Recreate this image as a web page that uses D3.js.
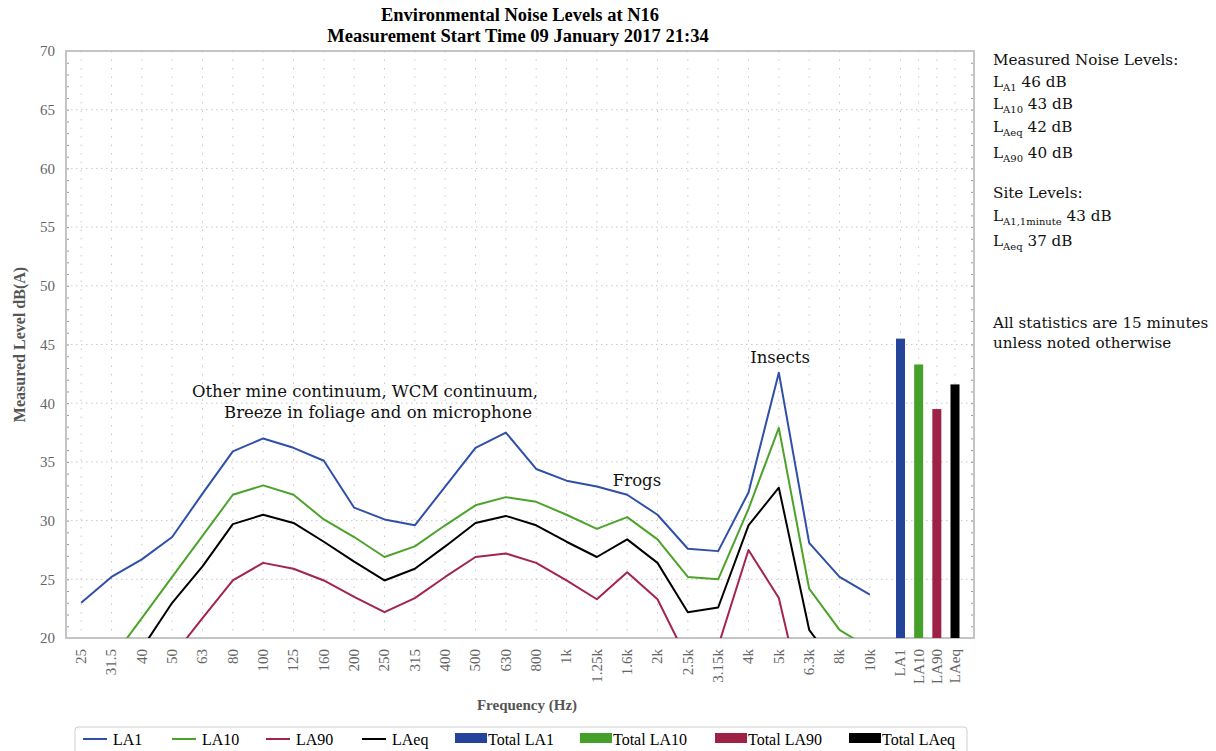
<!DOCTYPE html>
<html>
<head>
<meta charset="utf-8">
<script src="https://cdn.jsdelivr.net/npm/d3@7"></script>
<style>
  body { margin: 0; background: #fff; }
  svg { display: block; }
</style>
</head>
<body>
<svg width="1216" height="751"></svg>
<script>
const width = 1216, height = 751;
const margin = {top: 51, right: 242, bottom: 113, left: 66},
      plotWidth = width - margin.left - margin.right,
      plotHeight = height - margin.top - margin.bottom;

// data
const freqs = ["25","31.5","40","50","63","80","100","125","160","200","250","315","400",
               "500","630","800","1k","1.25k","1.6k","2k","2.5k","3.15k","4k","5k","6.3k","8k","10k"];
const la1  = [23.0,25.2,26.7,28.6,32.3,35.9,37.0,36.2,35.1,31.1,30.1,29.6,32.9,36.2,37.5,34.4,33.4,32.9,32.2,30.5,27.6,27.4,32.4,42.6,28.1,25.2,23.7];
const la10 = [16.5,18.2,21.7,25.2,28.7,32.2,33.0,32.2,30.1,28.6,26.9,27.8,29.6,31.3,32.0,31.6,30.5,29.3,30.3,28.4,25.2,25.0,31.0,37.9,24.2,20.7,19.1];
const la90 = [13.0,14.5,16.0,18.4,21.7,24.9,26.4,25.9,24.9,23.5,22.2,23.4,25.2,26.9,27.2,26.4,24.9,23.3,25.6,23.3,18.1,19.3,27.5,23.4,12.4,12.0,11.0];
const laeq = [14.5,16.5,19.1,23.0,26.1,29.7,30.5,29.8,28.2,26.5,24.9,25.9,27.8,29.8,30.4,29.6,28.2,26.9,28.4,26.4,22.2,22.6,29.6,32.8,20.7,17.2,16.0];
const totals = ["LA1","LA10","LA90","LAeq"];
const totalValues = [45.5,43.3,39.5,41.6];
const yTicks = [20,25,30,35,40,45,50,55,60,65,70];

const series = [
  {name: "LA1",  values: la1,  color: "#2f4fa8"},
  {name: "LA10", values: la10, color: "#4ca32a"},
  {name: "LA90", values: la90, color: "#a3244c"},
  {name: "LAeq", values: laeq, color: "#000000"}
];
const barColors = ["#24439b", "#45a02a", "#9e2146", "#000000"];

const svg = d3.select("svg");
const serif = "'Liberation Serif', 'Times New Roman', serif";
const wide = "'DejaVu Serif', serif";

const g = svg.append("g")
    .attr("transform", `translate(${margin.left}, ${margin.top})`);

// scales
const freqBand = 819;
const x = d3.scaleBand()
    .domain(freqs)
    .range([0, freqBand]);
const xc = d => x(d) + x.bandwidth() / 2;

const xBar = d3.scalePoint()
    .domain(totals)
    .range([834.5, 889]);

const y = d3.scaleLinear()
    .domain([20, 70])
    .range([plotHeight, 0]);

g.append("clipPath").attr("id", "clip")
  .append("rect")
    .attr("width", plotWidth)
    .attr("height", plotHeight);

// grid
const grid = g.append("g");
grid.selectAll("line.h").data(yTicks.slice(1, -1)).enter().append("line")
    .attr("x1", 0).attr("x2", plotWidth)
    .attr("y1", d => y(d)).attr("y2", d => y(d))
    .attr("stroke", "#c8c8c8").attr("stroke-dasharray", "1.5,3.5");
grid.selectAll("line.v").data(freqs.map(xc).concat(totals.map(xBar))).enter().append("line")
    .attr("x1", d => d).attr("x2", d => d)
    .attr("y1", 0).attr("y2", plotHeight)
    .attr("stroke", "#c8c8c8").attr("stroke-dasharray", "1.5,7");

// minor ticks left and right, pointing in
const minor = d3.range(20, 71, 1);
g.append("g").call(d3.axisRight(y).tickValues(minor).tickSize(3).tickFormat(""))
    .call(a => a.select(".domain").remove())
    .selectAll("line").attr("stroke", "#999");
g.append("g").attr("transform", `translate(${plotWidth},0)`)
    .call(d3.axisLeft(y).tickValues(minor).tickSize(3).tickFormat(""))
    .call(a => a.select(".domain").remove())
    .selectAll("line").attr("stroke", "#999");

// frame
g.append("rect")
    .attr("width", plotWidth).attr("height", plotHeight)
    .attr("fill", "none").attr("stroke", "#c4c4c4").attr("stroke-width", 2);

// y axis labels
const yAxis = g.append("g")
    .call(d3.axisLeft(y).tickValues(yTicks).tickSize(0).tickPadding(11));
yAxis.select(".domain").remove();
yAxis.selectAll("text")
    .attr("font-family", serif).attr("font-size", "15px").attr("fill", "#666");

// x axis labels, rotated
const xLabels = g.append("g").attr("transform", `translate(0, ${plotHeight})`);
xLabels.selectAll("text").data(freqs.map(d => ({t: d, x: xc(d)})).concat(totals.map(d => ({t: d, x: xBar(d)}))))
  .enter().append("text")
    .attr("transform", d => `translate(${d.x}, 11) rotate(-90)`)
    .attr("dy", "0.33em")
    .attr("text-anchor", "end")
    .attr("font-family", serif).attr("font-size", "15px").attr("fill", "#666")
    .text(d => d.t);

// lines
const line = d3.line()
    .x((d, i) => xc(freqs[i]))
    .y(d => y(d));

g.append("g").attr("clip-path", "url(#clip)")
  .selectAll("path").data(series).enter().append("path")
    .attr("d", d => line(d.values))
    .attr("fill", "none")
    .attr("stroke", d => d.color)
    .attr("stroke-width", 2)
    .attr("stroke-linejoin", "round");

// total bars
g.selectAll("rect.bar").data(totalValues).enter().append("rect")
    .attr("class", "bar")
    .attr("x", (d, i) => xBar(totals[i]) - 4.5)
    .attr("width", 9)
    .attr("y", d => y(d))
    .attr("height", d => plotHeight - y(d))
    .attr("fill", (d, i) => barColors[i]);

// annotations
const notes = [
  {t: "Other mine continuum, WCM continuum,", x: 365, y: 397},
  {t: "Breeze in foliage and on microphone", x: 378, y: 418},
  {t: "Frogs", x: 637, y: 486},
  {t: "Insects", x: 780, y: 363}
];
svg.selectAll("text.note").data(notes).enter().append("text")
    .attr("x", d => d.x).attr("y", d => d.y)
    .attr("text-anchor", "middle")
    .attr("font-family", wide).attr("font-size", "16.5px").attr("fill", "#111")
    .text(d => d.t);

// title
svg.append("text")
    .attr("x", 520).attr("y", 21)
    .attr("text-anchor", "middle")
    .attr("font-family", serif).attr("font-size", "18.5px").attr("font-weight", "bold")
    .text("Environmental Noise Levels at N16");
svg.append("text")
    .attr("x", 518).attr("y", 42)
    .attr("text-anchor", "middle")
    .attr("font-family", serif).attr("font-size", "18.5px").attr("font-weight", "bold")
    .text("Measurement Start Time 09 January 2017 21:34");

// axis titles
svg.append("text")
    .attr("transform", `translate(25, ${margin.top + plotHeight / 2}) rotate(-90)`)
    .attr("text-anchor", "middle")
    .attr("font-family", serif).attr("font-size", "16px").attr("font-weight", "bold").attr("fill", "#555")
    .text("Measured Level dB(A)");
svg.append("text")
    .attr("x", 527).attr("y", 710)
    .attr("text-anchor", "middle")
    .attr("font-family", serif).attr("font-size", "15px").attr("font-weight", "bold").attr("fill", "#555")
    .text("Frequency (Hz)");

// side panel
const side = svg.append("g").attr("font-family", wide).attr("font-size", "15.2px").attr("fill", "#111");
const sideLines = [
  {y: 65, main: "Measured Noise Levels:"},
  {y: 87, main: "L", sub: "A1", rest: " 46 dB"},
  {y: 109, main: "L", sub: "A10", rest: " 43 dB"},
  {y: 132, main: "L", sub: "Aeq", rest: " 42 dB"},
  {y: 158, main: "L", sub: "A90", rest: " 40 dB"},
  {y: 198, main: "Site Levels:"},
  {y: 221, main: "L", sub: "A1,1minute", rest: " 43 dB"},
  {y: 246, main: "L", sub: "Aeq", rest: " 37 dB"},
  {y: 328, main: "All statistics are 15 minutes"},
  {y: 348, main: "unless noted otherwise"}
];
sideLines.forEach(d => {
  const t = side.append("text").attr("x", 993).attr("y", d.y);
  t.append("tspan").text(d.main);
  if (d.sub) {
    t.append("tspan").attr("dy", 4).attr("font-size", "10px").text(d.sub);
    t.append("tspan").attr("dy", -4).text(d.rest);
  }
});

// legend
const legend = svg.append("g").attr("font-family", serif).attr("font-size", "16px");
legend.append("rect")
    .attr("x", 75).attr("y", 727).attr("width", 892).attr("height", 34)
    .attr("rx", 3).attr("fill", "#fff").attr("stroke", "#cfcfcf");
const legendX = [83, 172, 266, 362, 455, 580, 715, 849];
const items = series.map(s => ({label: s.name, color: s.color, kind: "line"}))
  .concat(totals.map((t, i) => ({label: "Total " + t, color: barColors[i], kind: "bar"})));
items.forEach((d, i) => {
  const lx = legendX[i];
  if (d.kind === "line") {
    legend.append("line").attr("x1", lx).attr("x2", lx + 24).attr("y1", 739).attr("y2", 739)
        .attr("stroke", d.color).attr("stroke-width", 2);
    legend.append("text").attr("x", lx + 30).attr("y", 744.5).text(d.label);
  } else {
    legend.append("rect").attr("x", lx).attr("y", 733).attr("width", 32).attr("height", 10)
        .attr("fill", d.color);
    legend.append("text").attr("x", lx + 33).attr("y", 744.5).text(d.label);
  }
});
</script>
</body>
</html>
